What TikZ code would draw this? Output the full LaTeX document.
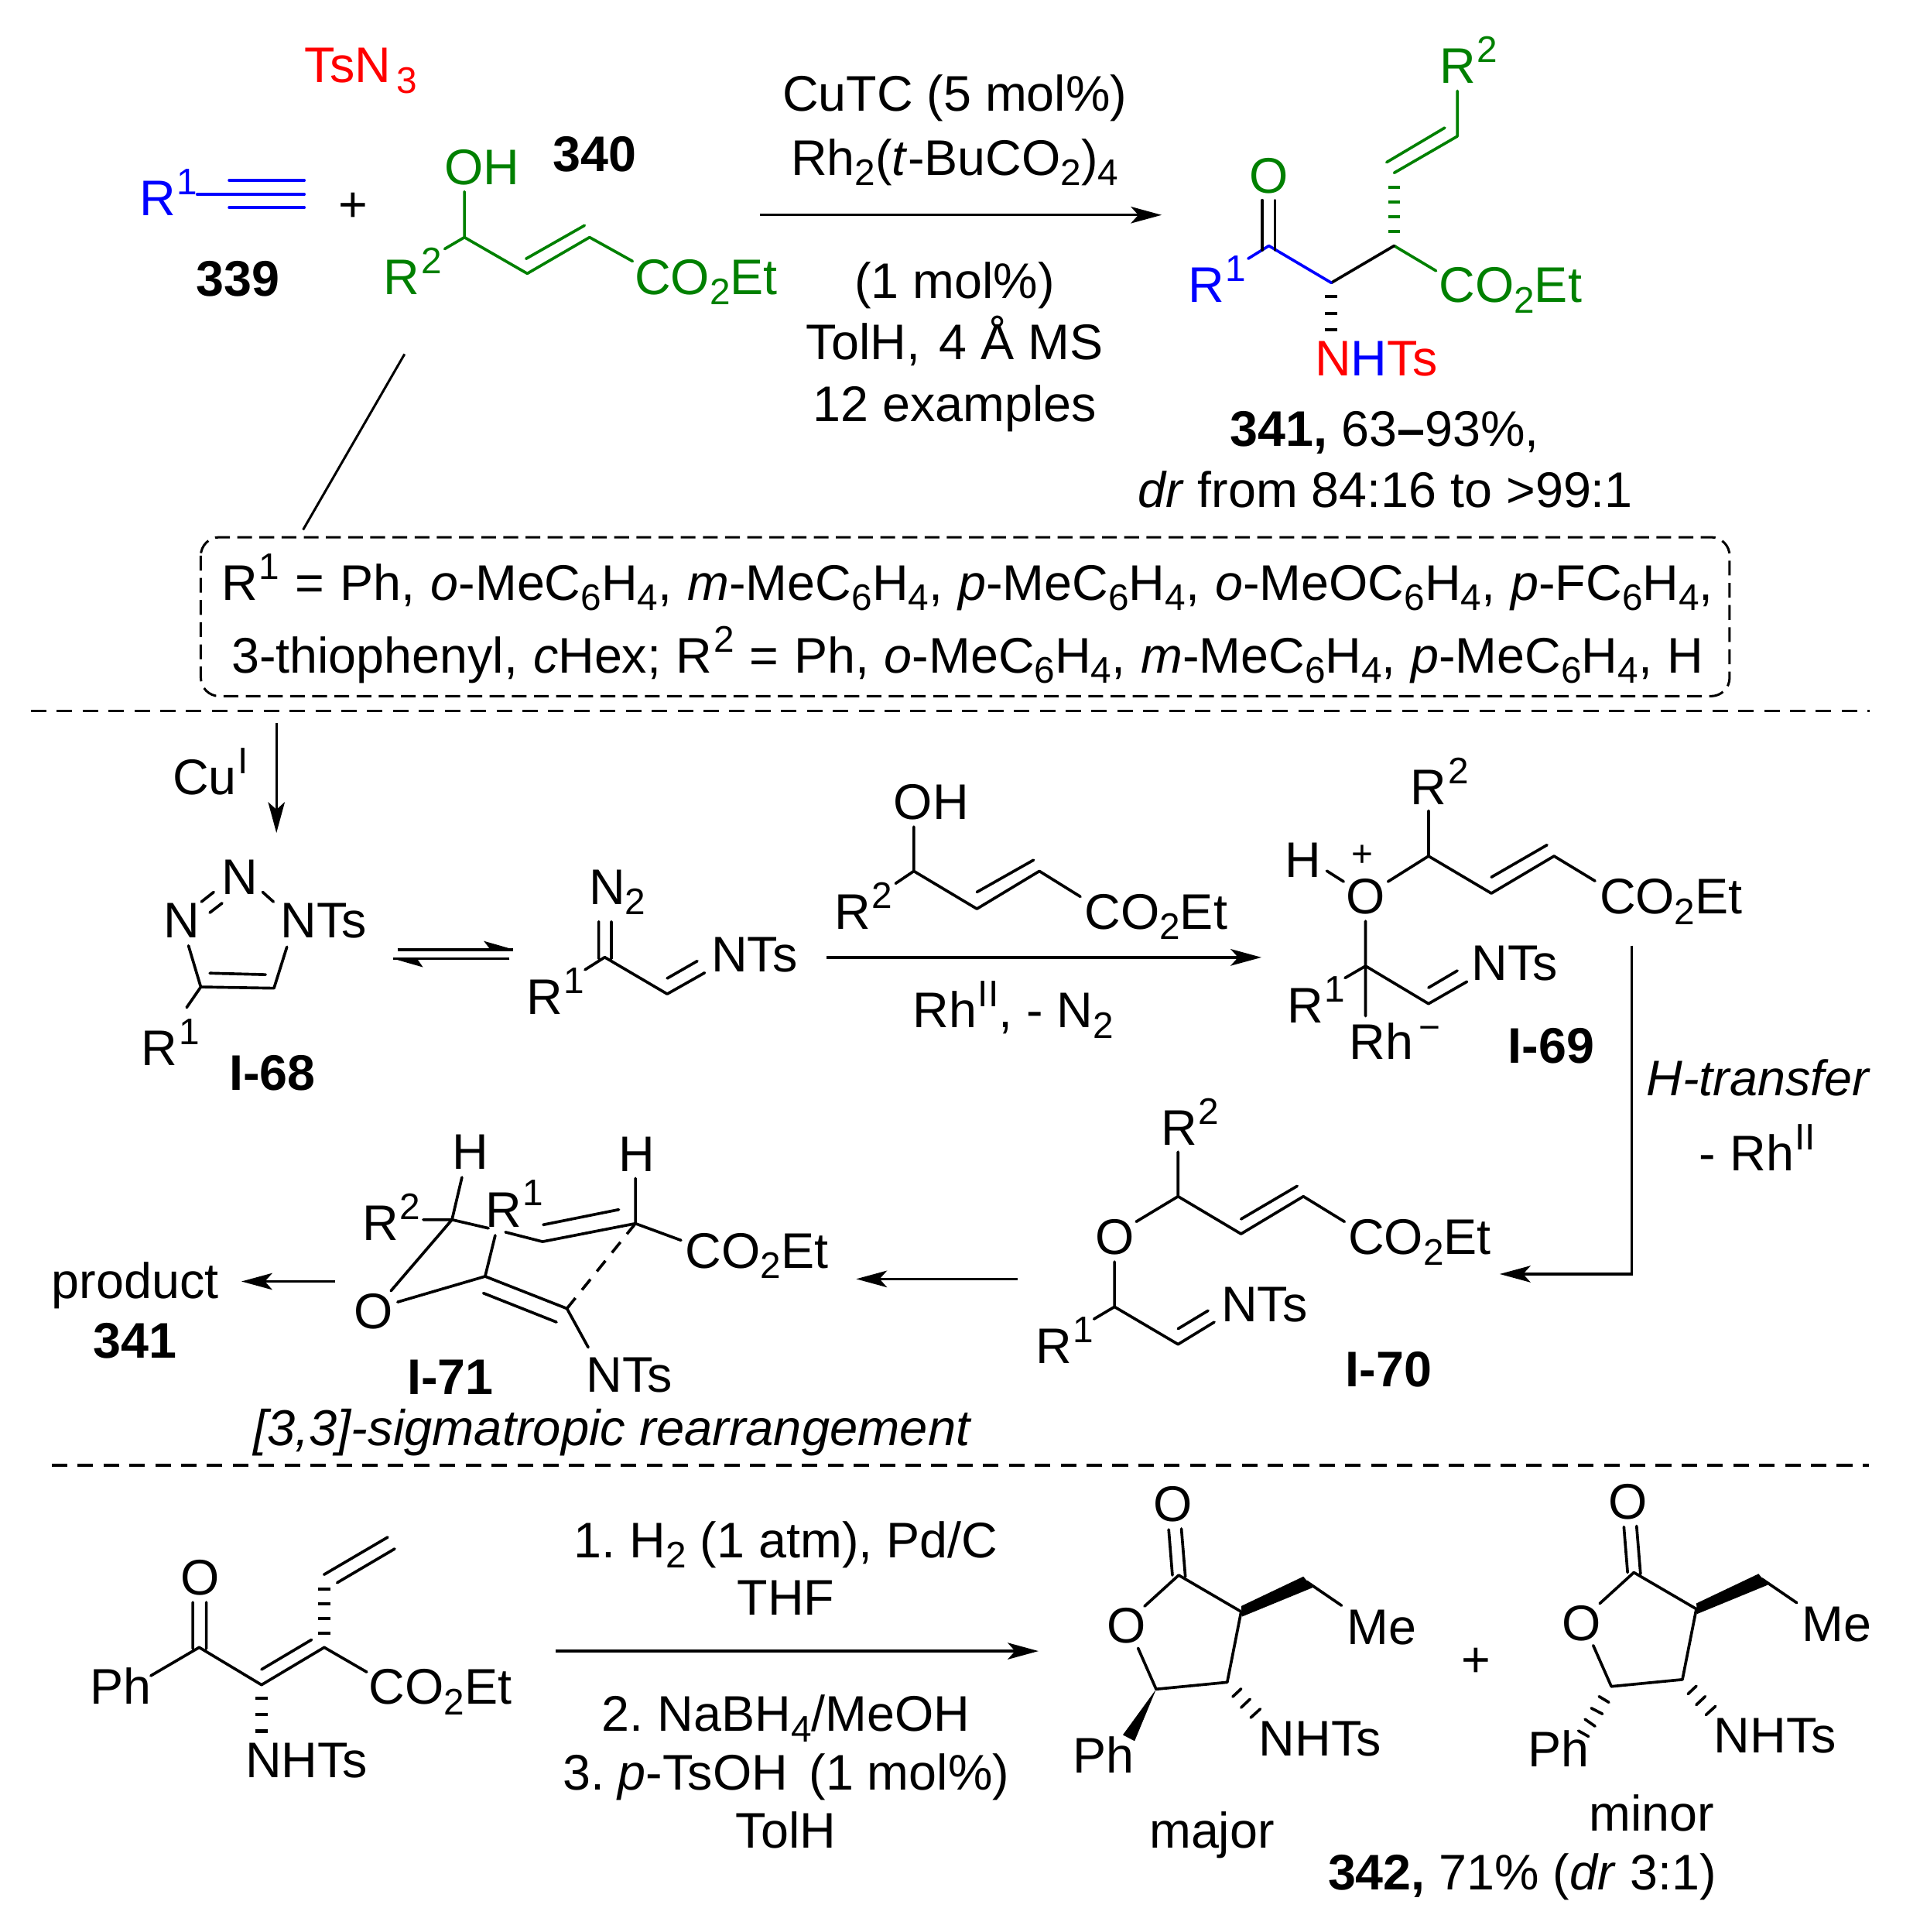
\documentclass[tikz,border=0pt]{standalone}
\usepackage{fontspec}
\setmainfont{Liberation Sans}
\usetikzlibrary{arrows.meta}
\definecolor{cblue}{RGB}{0,0,255}
\definecolor{cgreen}{RGB}{0,128,0}
\definecolor{cred}{RGB}{255,0,0}
\newcommand\sbb[1]{\raisebox{-8.5pt}{\fontsize{30}{30}\selectfont #1}}
\newcommand\spp[1]{\kern1pt\raisebox{17pt}{\fontsize{30}{30}\selectfont #1}}
\newcommand\lab[4][]{\node[txt,#1] (#2) at (#3) {\frenchspacing #4};}
\newcommand\pts[1]{\foreach \n/\x/\y in {#1} {\coordinate (\n) at (\x,\y);}}
\newcommand\coet{CO\sbb{2}Et}
\newcommand\lactone{%
  \lab{od}{937.8,1235}{O}
  \lab{ord}{900.3,1333.5}{O}
  \lab{me}{1094.8,1334.4}{Me}
  \lab{nhts}{1023.4,1425}{NHTs}
  \pts{c1/956.8/1278.4,d1a/948.7/1241.4,d1b/951.7/1278.4,d2a/959/1240.7,d2b/962.2/1279.6,oe/929.1/1303.6,c3/1007.5/1308,c4/996.2/1365.3,c5/938.5/1370.9,oe2/923.8/1337.6,w1/1007.5/1303.5,w2/1058/1279.5,w3/1065.5/1288.5,w4/1008.3/1312,c6/1060.6/1283.6,mee/1089/1303}
  \draw[bond] (d1a)--(d1b) (d2a)--(d2b) (c1)--(oe) (c1)--(c3)--(c4)--(c5)--(oe2) (c6)--(mee);
  \fill (w1)--(w2)--(w3)--(w4)--cycle;
  \draw[bond] (1000.7,1377)--(1007.5,1370.6) (1007.5,1385.8)--(1014.7,1379) (1015.3,1394)--(1023,1387);
}
\tikzset{
  txt/.style={inner sep=0pt,outer sep=0pt,anchor=base west,xshift=-1.5pt,font=\fontsize{40.6}{48}\selectfont},
  ctr/.style={anchor=base,xshift=1.5pt},
  bond/.style={line width=2.3pt,line cap=round,line join=round},
  hash/.style={line width=2.6pt},
  arr/.style={line width=2.1pt,-{Stealth[length=25pt,width=13.5pt,inset=6pt]}},
  sep/.style={line width=2.3pt,dash pattern=on 12.6pt off 8.4pt},
}
\begin{document}
\begin{tikzpicture}[x=1pt,y=-1pt]
\useasboundingbox (0,0) rectangle (1558,1568);
% ---------- top: reagents
\lab[cred]{tsn}{249,66.6}{TsN\kern4.5pt\raisebox{-9pt}{\fontsize{30}{30}\selectfont 3}}
\lab[cblue]{ra}{115,175}{R\spp{1}}
\pts{ta/160/157.8,tb/247/157.8,tc/186/146.5,td/247/146.5,te/186/168.5,tf/247/168.5}
\draw[bond,cblue] (ta)--(tb) (tc)--(td) (te)--(tf);
\lab[ctr]{plus}{287,180}{+}
\lab[font=\fontsize{40.6}{48}\selectfont\bfseries]{n339}{161,240}{339}
\lab[font=\fontsize{40.6}{48}\selectfont\bfseries]{n340}{450.6,139}{340}
\begin{scope}[cgreen]
\lab{oh}{362.5,150}{OH}
\lab{rb}{313,239}{R\spp{2}}
\lab{coa}{516.8,239}{\coet}
\pts{a1/377/192.6,a0/377/155.6,a2/361/202,a3/428/222,a4/478.6/192.6,a5/427/210,a6/474.5/183,a7/513.5/212}
\draw[bond] (a0)--(a1) (a2)--(a1)--(a3)--(a4)--(a7) (a5)--(a6);
\end{scope}
\pts{lna/328.4/287.4,lnb/246/430}
\draw[line width=1.9pt] (lna)--(lnb);
% conditions
\lab[ctr]{ca}{775,90}{CuTC (5 mol\%)}
\lab[ctr]{cb}{775,142}{Rh\sbb{2}(\textit{t}-BuCO\sbb{2})\sbb{4}}
\lab[ctr]{cc}{775,242}{(1 mol\%)}
\lab[ctr]{cd}{775,292}{TolH,\hspace{4pt} 4 Å MS}
\lab[ctr]{ce}{775,342}{12 examples}
\pts{arA/617/174.5,arB/943/174.5}
\draw[arr] (arA)--(arB);
% product 341
\begin{scope}[cgreen]
\lab{rc}{1170,67.3}{R\spp{2}}
\lab{pO}{1015.7,156.7}{O}
\lab{cob}{1169.6,245.3}{\coet}
\pts{b1/1183/110.6,b0/1183/73.8,b2/1131.7/140.3,b3/1172.8/103.7,b4/1125.6/131.7,b5/1131.7/199.5,b6/1165.7/219.8}
\draw[bond] (b0)--(b1)--(b2) (b3)--(b4) (b5)--(b6);
\foreach \y in {152,163.8,175.9,187.8} \draw[hash] (1126.7,\y)--(1136.7,\y);
\end{scope}
\lab[cblue]{rd}{966,245.3}{R\spp{1}}
\pts{b7/1080.7/229.5,b8/1030/199.5,b9/1013.2/209.9,b10/1024.7/162.5,b11/1024.7/203,b12/1035/162.5,b13/1035/203}
\draw[bond] (b5)--(b7);
\draw[bond,cblue] (b9)--(b8)--(b7);
\draw[bond] (b10)--(b11) (b12)--(b13);
\foreach \y in {240.6,254.4,267.7} \draw[hash] (1075.7,\y)--(1085.7,\y);
\lab{nhtc}{1069,305}{\textcolor{cred}{N}\textcolor{cblue}{H}\textcolor{cred}{Ts}}
\lab{ya}{1000.2,362}{\textbf{341,} 63\textbf{–}93\%,}
\lab{yb}{925,411.5}{\textit{dr} from 84:16 to >99:1}
% box
\draw[line width=1.9pt,rounded corners=15pt,dash pattern=on 12pt off 6pt] (163,436) rectangle (1404,565);
\lab{bxa}{181.5,487}{\spaceskip=12.7pt R\spp{1} = Ph, \textit{o}-MeC\sbb{6}H\sbb{4}, \textit{m}-MeC\sbb{6}H\sbb{4}, \textit{p}-MeC\sbb{6}H\sbb{4}, \textit{o}-MeOC\sbb{6}H\sbb{4}, \textit{p}-FC\sbb{6}H\sbb{4},}
\lab{bxb}{189.5,546}{\spaceskip=12.4pt 3-thiophenyl, \textit{c}Hex; R\spp{2} = Ph, \textit{o}-MeC\sbb{6}H\sbb{4}, \textit{m}-MeC\sbb{6}H\sbb{4}, \textit{p}-MeC\sbb{6}H\sbb{4}, H}
\pts{spa/25/577,spb/1518/577,spc/42/1189,spd/1517/1189}
\draw[sep] (spa)--(spb);
\draw[sep] (spc)--(spd);
% ---------- mechanism: triazole
\pts{cua/224.4/587,cub/224.4/676}
\draw[arr] (cua)--(cub);
\lab{cui}{141.6,644.6}{Cu\spp{I}}
\lab{na}{181.6,726}{N}
\lab{nb}{134.3,761}{N}
\lab{nc}{229.3,761}{NTs}
\lab{re}{116.4,865}{R\spp{1}}
\lab[font=\fontsize{40.6}{48}\selectfont\bfseries]{i68}{187.6,884.8}{I-68}
\pts{d1/163.5/731.9,d2/173.5/724,d3/170.3/740.7,d4/180.3/733,d5/213.2/724,d6/222/731.9,d7/153/767.5,d8/163/801,d9/222.4/802,d10/232.9/768.5,d11/170.3/789.8,d12/215.6/791,d13/151.5/817.7}
\draw[bond] (d1)--(d2) (d3)--(d4) (d5)--(d6) (d7)--(d8)--(d9)--(d10) (d11)--(d12) (d8)--(d13);
% equilibrium
\pts{ea/322.6/770.6,eb/416.8/770.6,ec/392.7/763.7,ed/398/770.6,ee/413.6/778,ef/319/778,eg/343.4/785,eh/338.5/778}
\draw[line width=2.4pt] (ea)--(eb) (ee)--(ef);
\fill (eb)--(ec)--(ed)--cycle (ef)--(eg)--(eh)--cycle;
% diazo
\lab{nn}{479.6,733.9}{N\sbb{2}}
\lab{nd}{579,788.4}{NTs}
\lab{rf}{428.7,823.4}{R\spp{1}}
\pts{f1/486/748,f2/486/778,f3/496.3/748,f4/496.3/778,f5/490.9/776.9,f6/474.9/787,f7/541.6/806.7,f8/572/789.5,f9/541.6/794,f10/566/780}
\draw[bond] (f1)--(f2) (f3)--(f4) (f6)--(f5)--(f7)--(f8) (f9)--(f10);
% main arrow
\pts{mA/671/777,mB/1024/777}
\draw[arr,line width=2.3pt] (mA)--(mB);
\lab{rhn}{742.5,834}{Rh\spp{II}, - N\sbb{2}}
\lab{ohb}{727,665}{OH}
\lab{rg}{679,754}{R\spp{2}}
\lab{coc}{881.9,754}{\coet}
\pts{g1/741.8/707,g0/741.8/671,g2/727/717,g3/793/737.6,g4/843.7/707,g5/793/724,g6/839/698,g7/877/727.7}
\draw[bond] (g0)--(g1) (g2)--(g1)--(g3)--(g4)--(g7) (g5)--(g6);
% I-69
\lab{rh}{1146.6,652.9}{R\spp{2}}
\lab{hh}{1044.9,712}{H}
\lab[ctr,font=\fontsize{30}{30}\selectfont]{pp}{1106,703.5}{+}
\lab{oo}{1094.4,741.7}{O}
\lab{cod}{1300,741.7}{\coet}
\lab{ne}{1196,795.8}{NTs}
\lab{ri}{1046.5,830}{R\spp{1}}
\lab{rhm}{1096.9,860}{Rh}
\lab[font=\fontsize{30}{30}\selectfont]{mn}{1153.5,844}{−}
\lab[font=\fontsize{40.6}{48}\selectfont\bfseries]{i69}{1225.6,863}{I-69}
\pts{h1/1159.6/694.8,h0/1159.6/658,h2/1077/706.8,h3/1090.7/715.5,h4/1126.7/715.5,h5/1210.6/725,h6/1261.5/694.8,h7/1210.6/711.9,h8/1255.8/685.8,h9/1294.8/715,h10/1108.5/747.6,h11/1108.5/784,h12/1108.5/824.6,h13/1091.8/793.7,h14/1159.6/814.6,h15/1190.8/796.7,h16/1159.6/801.6,h17/1183/787.8}
\draw[bond] (h0)--(h1) (h2)--(h3) (h4)--(h1)--(h5)--(h6)--(h9) (h7)--(h8) (h10)--(h12) (h13)--(h11)--(h14)--(h15) (h16)--(h17);
% H transfer
\pts{tA/1324.7/767.5,tB/1324.7/1034,tC/1217.4/1034}
\draw[arr] (tA)--(tB)--(tC);
\lab{htr}{1338,889}{\textit{H-transfer}}
\lab{rhl}{1381,950}{- Rh\spp{II}}
% I-70
\lab{rj}{944,929.3}{R\spp{2}}
\lab{ooa}{890.8,1018}{O}
\lab{coe}{1096,1018}{\coet}
\lab{nf}{993,1072.6}{NTs}
\lab{rk}{842.3,1106.3}{R\spp{1}}
\lab[font=\fontsize{40.6}{48}\selectfont\bfseries]{i70}{1093.7,1125.6}{I-70}
\pts{j1/956.3/971,j0/956.3/934.9,j2/922.3/991.5,j3/1007.4/1001.4,j4/1058/971,j5/1007.4/989.4,j6/1053/962.6,j7/1091.4/991.5,j8/904.7/1024,j9/904.7/1060.6,j10/888/1070.5,j11/956.3/1091,j12/985.7/1073,j13/956.3/1078.4,j14/980.7/1063.7}
\draw[bond] (j0)--(j1) (j2)--(j1)--(j3)--(j4)--(j7) (j5)--(j6) (j8)--(j9) (j10)--(j9)--(j11)--(j12) (j13)--(j14);
\pts{kA/826/1038,kB/695/1038,kC/272/1040,kD/196/1040}
\draw[arr] (kA)--(kB);
\draw[arr] (kC)--(kD);
% I-71
\lab{hi}{368.5,949}{H}
\lab{rl}{295.6,1006.6}{R\spp{2}}
\lab{rm}{395.8,995.7}{R\spp{1}}
\lab{hj}{503.7,950.7}{H}
\lab{cof}{557.9,1029}{\coet}
\lab{oob}{289,1078.4}{O}
\lab{ng}{477.5,1130}{NTs}
\lab[font=\fontsize{40.6}{48}\selectfont\bfseries]{i71}{332,1131.4}{I-71}
\lab[font=\fontsize{40.9}{48}\selectfont]{sig}{207,1173}{\textit{[3,3]-sigmatropic rearrangement}}
\lab{prd}{43.5,1054}{product}
\lab[font=\fontsize{40.6}{48}\selectfont\bfseries]{p341}{77.5,1102}{341}
\pts{l0/375/955.5,l1/366.9/989.9,l2/343.6/989.9,l3/317.3/1047.7,l4/396.5/996.8,l5/410.3/1000,l6/440.4/1007.7,l7/515.8/993,l8/441/994,l9/502.3/981.7,l10/515.8/956.3,l11/552.8/1006.6,l12/402/1002.6,l13/393.8/1035.9,l14/460.2/1062,l15/322.8/1056.7,l16/392.4/1049.5,l17/451.7/1073,l18/477.5/1093.5}
\draw[bond] (l0)--(l1) (l2)--(l1)--(l3) (l1)--(l4) (l5)--(l6)--(l7)--(l11) (l8)--(l9) (l10)--(l7) (l12)--(l13)--(l14)--(l18) (l15)--(l13) (l16)--(l17);
\draw[bond,line cap=butt,dash pattern=on 11pt off 8.4pt] (l7)--(l14);
% ---------- bottom
\lab{qo}{148,1294.7}{O}
\lab{qph}{74.5,1383}{Ph}
\lab{cog}{301,1383}{\coet}
\lab{qn}{200.8,1442.8}{NHTs}
\pts{q1/156.5/1300.4,q2/156.5/1338,q3/167.5/1300.4,q4/167.5/1338,q5/161.7/1337,q6/122.4/1360,q7/212.3/1367.4,q8/263.2/1337,q9/212.3/1354.9,q10/252.9/1330.8,q11/297.7/1357,q12/273.7/1284.5,q13/320.4/1257,q14/263/1277.9,q15/314.7/1247.6}
\draw[bond] (q1)--(q2) (q3)--(q4) (q6)--(q5)--(q7)--(q8)--(q11) (q9)--(q10) (q12)--(q13) (q14)--(q15);
\foreach \y in {1325.6,1313.6,1301.6,1289.9} \draw[hash] (258.2,\y)--(268.2,\y);
\foreach \y in {1378,1391.7,1405} \draw[hash] (207.3,\y)--(217.3,\y);
\lab[ctr]{ba}{638,1264}{1. H\sbb{2} (1 atm), Pd/C}
\lab[ctr]{bb}{638,1311}{THF}
\lab[ctr]{bc}{638,1405}{2. NaBH\sbb{4}/MeOH}
\lab[ctr]{bd}{638,1453}{3. \textit{p}-TsOH\hspace{6pt} (1 mol\%)}
\lab[ctr]{be}{638,1500}{TolH}
\pts{bA/451/1340,bB/843/1340}
\draw[arr] (bA)--(bB);
% lactones
\begin{scope}[name prefix=mj-]
\lactone
\lab{ph}{872.6,1439}{Ph}
\coordinate (wa) at (911.5,1408);
\coordinate (wb) at (921,1413);
\fill (c5)--(wa)--(wb)--cycle;
\end{scope}
\lab[ctr]{pl}{1198.5,1361}{+}
\begin{scope}[name prefix=mn-,shift={(369.5,-2.2)}]
\lactone
\lab{ph}{872.6,1436}{Ph}
\end{scope}
\draw[bond] (1298,1376.8)--(1306,1381.6) (1291.7,1386.3)--(1300.8,1391) (1286.6,1395.3)--(1294.8,1401) (1281.3,1404.7)--(1289.5,1409.3);
\lab{mja}{934.5,1500}{major}
\lab{mna}{1291.5,1486}{minor}
\lab{yc}{1079.5,1534}{\textbf{342,} 71\% (\textit{dr} 3:1)}
\end{tikzpicture}
\end{document}
